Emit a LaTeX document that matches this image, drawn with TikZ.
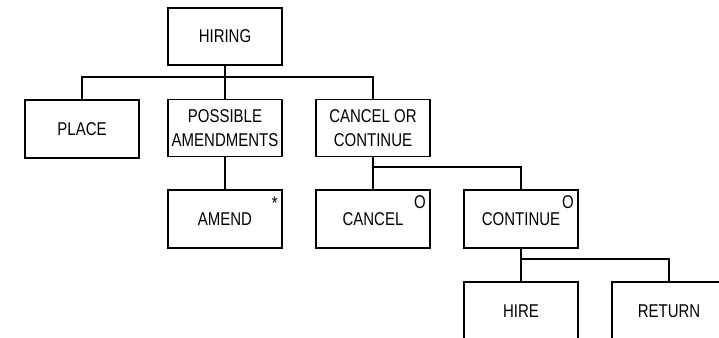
\documentclass[tikz,border=0pt]{standalone}
\usepackage{fontspec}
\setmainfont{Liberation Sans}[FakeStretch=0.81]
\begin{document}
\begin{tikzpicture}[x=1pt,y=-1pt,
  box/.style={draw, rectangle, line width=1.8pt, minimum width=114pt, minimum height=57pt,
    inner sep=0pt, align=center, font=\fontsize{18.5}{24}\selectfont},
  tagmark/.style={font=\fontsize{18.5}{20}\selectfont, inner sep=0pt, anchor=north east},
  link/.style={draw, line width=1.8pt}]
  \fill[white] (0,0) rectangle (719,337);
  \useasboundingbox (0,0) rectangle (719,337);
  \clip (0,0) rectangle (719,337);

  % boxes
  \node[box] (hiring) at (225,36.5) {HIRING};
  \node[box, minimum height=58pt] (place) at (82,129) {PLACE};
  \node[box] (posam) at (225,128) {POSSIBLE\\AMENDMENTS};
  \node[box] (cancor) at (373,128) {CANCEL OR\\CONTINUE};
  \node[box, minimum height=58pt] (amend) at (225,219) {AMEND};
  \node[box, minimum height=58pt] (cancel) at (373,219) {CANCEL};
  \node[box, minimum height=58pt] (cont) at (521,219) {CONTINUE};
  \node[box, minimum height=58pt] (hire) at (521,311) {HIRE};
  \node[box, minimum height=58pt] (ret) at (669,311) {RETURN};

  % corner markers
  \node[tagmark] (m1) at ([xshift=-5pt,yshift=-7pt]amend.north east) {*};
  \node[tagmark] (m2) at ([xshift=-5pt,yshift=-6pt]cancel.north east) {O};
  \node[tagmark] (m3) at ([xshift=-5pt,yshift=-6pt]cont.north east) {O};

  % junctions
  \coordinate (j1) at (225,77);
  \coordinate (j2) at (373,167);
  \coordinate (j3) at (521,259);

  % connectors
  \path[link] (hiring) -- (posam);
  \path[link] (place.north) |- (j1) -| (cancor.north);
  \path[link] (posam) -- (amend);
  \path[link] (cancor) -- (cancel);
  \path[link] (j2) -| (cont.north);
  \path[link] (cont) -- (hire);
  \path[link] (j3) -| (ret.north);
\end{tikzpicture}
\end{document}
